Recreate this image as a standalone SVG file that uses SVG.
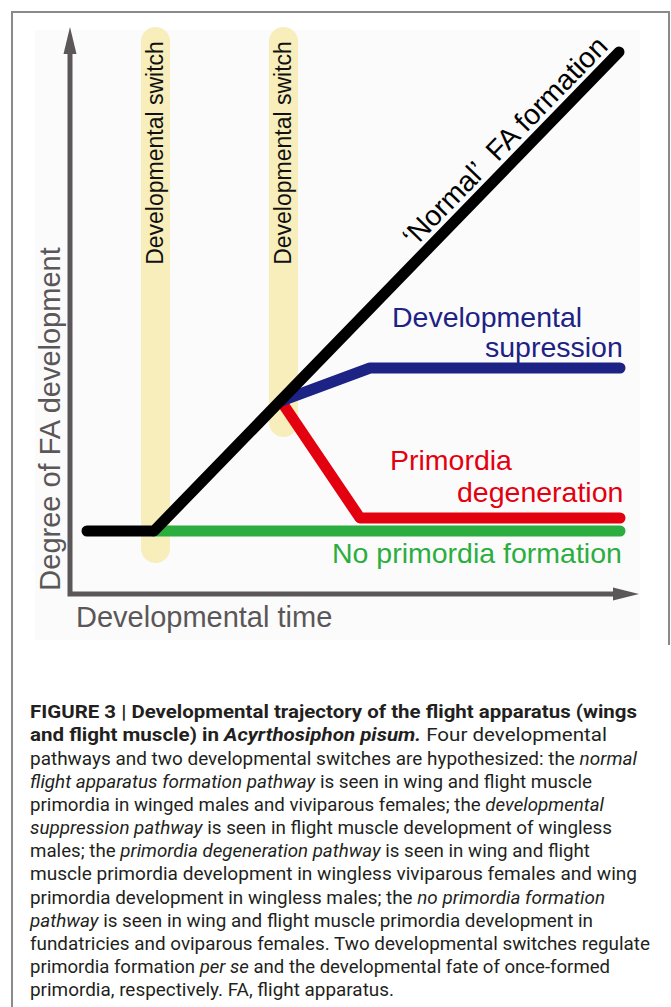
<svg xmlns="http://www.w3.org/2000/svg" width="671" height="1007" viewBox="0 0 671 1007">
<style>
.frame{fill:none;stroke:#8a8a8a;stroke-width:2}
.axis{fill:none;stroke:#5b5758;stroke-width:5;stroke-linejoin:miter}
.axhead{fill:#5b5758}
.bar{fill:#f7eebb}
.path{fill:none;stroke-width:11;stroke-linecap:round;stroke-linejoin:round}
.lbl{font-family:"Liberation Sans",Arial,sans-serif;font-size:28.5px}
.axl{font-family:"Liberation Sans",Arial,sans-serif;font-size:29px;fill:#5b5758}
.sw{font-family:"Liberation Sans",Arial,sans-serif;font-size:23px;fill:#111}
.cap{font-family:"Liberation Sans Narrow","Roboto","Liberation Sans",sans-serif;font-size:18.5px;fill:#231f20}
.b{font-weight:bold}
.i{font-style:italic}
</style>
<rect x="0" y="0" width="671" height="1007" fill="#ffffff"/>
<path class="frame" d="M12,1007 V12 H669 V645"/>
<rect x="35" y="30" width="605" height="610" fill="#fbfbfb"/>

<g id="switch1">
<rect class="bar" x="141" y="27" width="29" height="536" rx="14.5"/>
<text class="sw" transform="translate(163,153) rotate(-90)" text-anchor="middle">Developmental switch</text>
</g>
<g id="switch2">
<rect class="bar" x="269" y="27" width="29" height="410" rx="14.5"/>
<text class="sw" transform="translate(291,153) rotate(-90)" text-anchor="middle">Developmental switch</text>
</g>

<g id="axes">
<polyline class="axis" points="70,52 70,594 615,594"/>
<polygon class="axhead" points="70,27 63.5,54 76.5,54"/>
<polygon class="axhead" points="639,594 613,587.5 613,600.5"/>
<text class="axl" transform="translate(60,419) rotate(-90)" text-anchor="middle">Degree of FA development</text>
<text class="axl" x="76" y="627">Developmental time</text>
</g>

<g id="connectors">
<path id="nopri" class="path" stroke="#2bae3f" d="M154,531 L620,531"/>
<path id="degen" class="path" stroke="#e3000f" d="M281,401 L360,518 L620,518"/>
<path id="supp" class="path" stroke="#1d2285" d="M281,401 L370,368 L620,368"/>
<path id="normal" class="path" stroke="#000000" d="M87,531 L154,531 L619,52"/>
</g>

<g id="label-normal">
<text class="lbl" fill="#000" xml:space="preserve" transform="translate(519,155) rotate(-45.8)" x="0" y="-10" text-anchor="middle">‘Normal’  FA formation</text>
</g>
<g id="label-supp">
<text class="lbl" fill="#1d2285" x="392" y="327">Developmental</text>
<text class="lbl" fill="#1d2285" x="485" y="357">supression</text>
</g>
<g id="label-degen">
<text class="lbl" fill="#e3000f" x="390" y="470">Primordia</text>
<text class="lbl" fill="#e3000f" x="457" y="502">degeneration</text>
</g>
<g id="label-nopri">
<text class="lbl" fill="#2bae3f" x="332" y="563">No primordia formation</text>
</g>

<g id="caption">
<text class="cap b" x="30" y="718" textLength="607" lengthAdjust="spacingAndGlyphs">FIGURE 3 | Developmental trajectory of the flight apparatus (wings</text>
<text class="cap" x="30" y="741" textLength="577" lengthAdjust="spacingAndGlyphs"><tspan class="b">and flight muscle) in </tspan><tspan class="b i">Acyrthosiphon pisum.</tspan> Four developmental</text>
<text class="cap" x="30" y="764.5" textLength="607" lengthAdjust="spacingAndGlyphs">pathways and two developmental switches are hypothesized: the <tspan class="i">normal</tspan></text>
<text class="cap" x="30" y="787.5" textLength="562" lengthAdjust="spacingAndGlyphs"><tspan class="i">flight apparatus formation pathway</tspan> is seen in wing and flight muscle</text>
<text class="cap" x="30" y="810.5" textLength="574" lengthAdjust="spacingAndGlyphs">primordia in winged males and viviparous females; the <tspan class="i">developmental</tspan></text>
<text class="cap" x="30" y="834" textLength="582" lengthAdjust="spacingAndGlyphs"><tspan class="i">suppression pathway</tspan> is seen in flight muscle development of wingless</text>
<text class="cap" x="30" y="857" textLength="560" lengthAdjust="spacingAndGlyphs">males; the <tspan class="i">primordia degeneration pathway</tspan> is seen in wing and flight</text>
<text class="cap" x="30" y="880" textLength="607" lengthAdjust="spacingAndGlyphs">muscle primordia development in wingless viviparous females and wing</text>
<text class="cap" x="30" y="903.5" textLength="575" lengthAdjust="spacingAndGlyphs">primordia development in wingless males; the <tspan class="i">no primordia formation</tspan></text>
<text class="cap" x="30" y="926.5" textLength="563" lengthAdjust="spacingAndGlyphs"><tspan class="i">pathway</tspan> is seen in wing and flight muscle primordia development in</text>
<text class="cap" x="30" y="949.5" textLength="620" lengthAdjust="spacingAndGlyphs">fundatricies and oviparous females. Two developmental switches regulate</text>
<text class="cap" x="30" y="973" textLength="580" lengthAdjust="spacingAndGlyphs">primordia formation <tspan class="i">per se</tspan> and the developmental fate of once-formed</text>
<text class="cap" x="30" y="996" textLength="364" lengthAdjust="spacingAndGlyphs">primordia, respectively. FA, flight apparatus.</text>
</g>
</svg>
